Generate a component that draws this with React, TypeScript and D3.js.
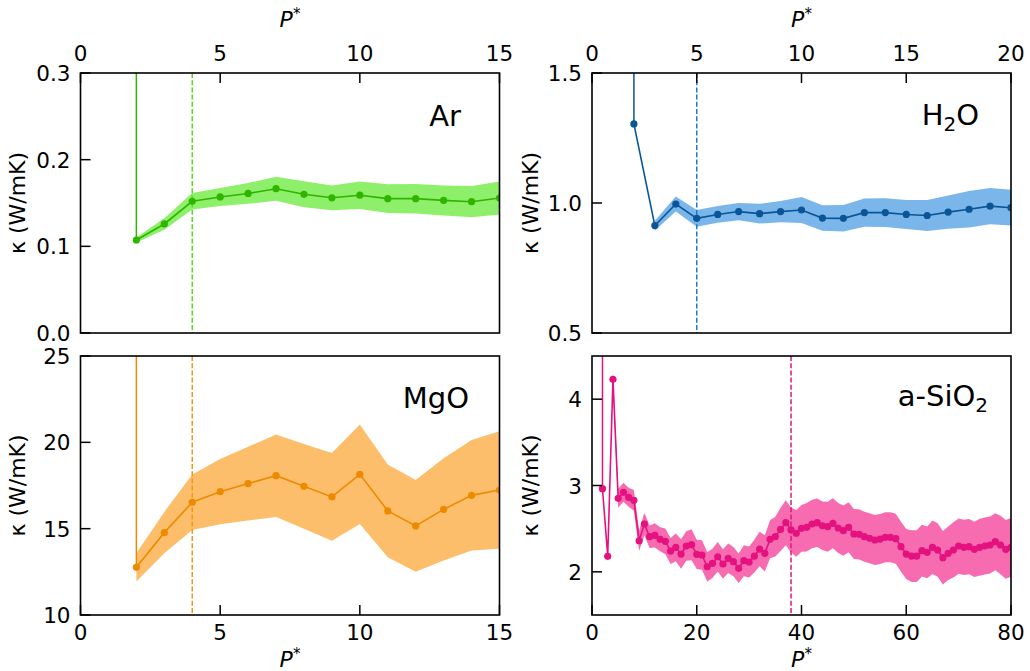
import React from "react";
import * as d3 from "d3";

const FONT = "DejaVu Sans, Verdana, sans-serif";

// ---- data ----
const arP = [2, 3, 4, 5, 6, 7, 8, 9, 10, 11, 12, 13, 14, 15];
const arK = [0.1073, 0.1258, 0.152, 0.157, 0.161, 0.1665, 0.16, 0.156, 0.159, 0.155, 0.155, 0.153, 0.1515, 0.1557];
const arErr = [0.003, 0.0067, 0.0096, 0.0104, 0.012, 0.0138, 0.015, 0.0143, 0.0158, 0.0165, 0.017, 0.0173, 0.018, 0.019];

const h2oP = [2, 3, 4, 5, 6, 7, 8, 9, 10, 11, 12, 13, 14, 15, 16, 17, 18, 19, 20];
const h2oK = [1.304, 0.913, 0.996, 0.941, 0.956, 0.967, 0.959, 0.967, 0.973, 0.942, 0.941, 0.963, 0.963, 0.956, 0.952, 0.965, 0.976, 0.988, 0.982];
const h2oErr = [null, 0.019, 0.029, 0.032, 0.032, 0.033, 0.038, 0.041, 0.05, 0.049, 0.051, 0.054, 0.055, 0.056, 0.06, 0.064, 0.07, 0.07, 0.069];

const mgoP = [2, 3, 4, 5, 6, 7, 8, 9, 10, 11, 12, 13, 14, 15];
const mgoK = [12.76, 14.77, 16.53, 17.14, 17.61, 18.07, 17.45, 16.84, 18.15, 16.03, 15.16, 16.12, 16.93, 17.24];
const mgoErr = [0.82, 1.2, 1.6, 1.89, 2.13, 2.39, 2.46, 2.54, 2.88, 2.69, 2.66, 2.96, 3.2, 3.4];

const sioP = [
  2, 3, 4, 5, 6, 7, 8, 9, 10, 11, 12, 13, 14, 15, 16, 17, 18, 19, 20,
  21, 22, 23, 24, 25, 26, 27, 28, 29, 30, 31, 32, 33, 34, 35, 36, 37, 38, 39, 40,
  41, 42, 43, 44, 45, 46, 47, 48, 49, 50, 51, 52, 53, 54, 55, 56, 57, 58, 59, 60,
  61, 62, 63, 64, 65, 66, 67, 68, 69, 70, 71, 72, 73, 74, 75, 76, 77, 78, 79, 80,
];
const sioK = [
  2.963, 2.18, 4.23, 2.852, 2.921, 2.863, 2.828, 2.36, 2.554, 2.407, 2.423, 2.377, 2.353, 2.241, 2.284, 2.206, 2.299, 2.314, 2.203,
  2.195, 2.059, 2.098, 2.175, 2.091, 2.157, 2.118, 2.041, 2.129, 2.114, 2.183, 2.264, 2.214, 2.377, 2.407, 2.492, 2.569, 2.485, 2.446, 2.504,
  2.516, 2.554, 2.569, 2.534, 2.523, 2.562, 2.508, 2.477, 2.516, 2.438, 2.434, 2.407, 2.388, 2.369, 2.38, 2.4, 2.4, 2.384, 2.291, 2.206,
  2.183, 2.183, 2.245, 2.226, 2.284, 2.253, 2.164, 2.214, 2.253, 2.299, 2.284, 2.291, 2.261, 2.284, 2.299, 2.311, 2.349, 2.311, 2.261, 2.284,
];
const sioErr = [
  null, null, 0.1, 0.11, 0.11, 0.11, 0.12, 0.12, 0.13, 0.13, 0.14, 0.14, 0.15, 0.15, 0.16, 0.17, 0.17, 0.18, 0.17,
  0.17, 0.17, 0.17, 0.17, 0.17, 0.17, 0.17, 0.17, 0.18, 0.18, 0.19, 0.2, 0.21, 0.22, 0.23, 0.25, 0.26, 0.26, 0.27, 0.27,
  0.28, 0.28, 0.28, 0.28, 0.29, 0.29, 0.29, 0.29, 0.29, 0.29, 0.29, 0.29, 0.29, 0.29, 0.29, 0.29, 0.29, 0.29, 0.29, 0.29,
  0.3, 0.3, 0.3, 0.3, 0.31, 0.31, 0.31, 0.31, 0.32, 0.32, 0.32, 0.32, 0.32, 0.33, 0.33, 0.33, 0.33, 0.34, 0.34, 0.34,
];

const arXTicks = [0, 5, 10, 15];
const arYTicks = [0.0, 0.1, 0.2, 0.3];
const h2oXTicks = [0, 5, 10, 15, 20];
const h2oYTicks = [0.5, 1.0, 1.5];
const mgoXTicks = [0, 5, 10, 15];
const mgoYTicks = [10, 15, 20, 25];
const sioXTicks = [0, 20, 40, 60, 80];
const sioYTicks = [2, 3, 4];

const TICK_FS = 21.5;
const LABEL_FS = 22;

type PanelProps = {
  id: string;
  box: [number, number, number, number]; // left, top, right, bottom
  xDomain: [number, number];
  yDomain: [number, number];
  xTicks: number[];
  yTicks: number[];
  yFmt: (v: number) => string;
  side: "top" | "bottom";
  P: number[];
  K: number[];
  E: (number | null)[];
  lineColor: string;
  fillColor: string;
  dashColor: string;
  dashX: number;
  label: React.ReactNode;
  labelX: number;
  labelY: number;
  yLabelX: number;
};

function PStar({ x, y }: { x: number; y: number }) {
  return (
    <text x={x} y={y} textAnchor="middle" fontSize={LABEL_FS} fontFamily={FONT}>
      <tspan fontStyle="italic">P</tspan>
      <tspan dy={-8} fontSize={15}>*</tspan>
    </text>
  );
}

function Panel(p: PanelProps) {
  const [L, T, R, B] = p.box;
  const x = d3.scaleLinear().domain(p.xDomain).range([L, R]);
  const y = d3.scaleLinear().domain(p.yDomain).range([B, T]);
  const pts = p.P.map((v, i) => ({ p: v, k: p.K[i], e: p.E[i] }));
  const area = d3
    .area<any>()
    .defined((d) => d.e != null)
    .x((d) => x(d.p))
    .y0((d) => y(d.k - d.e))
    .y1((d) => y(d.k + d.e));
  const line = d3
    .line<any>()
    .x((d) => x(d.p))
    .y((d) => y(d.k));
  const tickLen = 10;
  const clipId = "clip-" + p.id;
  const cy = (T + B) / 2;
  return (
    <g>
      <defs>
        <clipPath id={clipId}>
          <rect x={L} y={T} width={R - L} height={B - T} />
        </clipPath>
      </defs>
      <g clipPath={`url(#${clipId})`}>
        <path d={area(pts) || ""} fill={p.fillColor} stroke="none" />
        <line
          x1={x(p.dashX)}
          x2={x(p.dashX)}
          y1={T}
          y2={B}
          stroke={p.dashColor}
          strokeWidth={1.5}
          strokeDasharray="5,2.2"
        />
        <line
          x1={x(p.P[0])}
          x2={x(p.P[0])}
          y1={y(p.K[0])}
          y2={T}
          stroke={p.lineColor}
          strokeWidth={1.5}
        />
        <path d={line(pts) || ""} fill="none" stroke={p.lineColor} strokeWidth={1.6} />
        {pts.map((d, i) => (
          <circle key={i} cx={x(d.p)} cy={y(d.k)} r={3.6} fill={p.lineColor} />
        ))}
      </g>
      {/* frame */}
      <rect x={L} y={T} width={R - L} height={B - T} fill="none" stroke="#000" strokeWidth={1.6} />
      {/* y ticks */}
      {p.yTicks.map((t) => (
        <g key={"y" + t}>
          <line x1={L} x2={L + tickLen} y1={y(t)} y2={y(t)} stroke="#000" strokeWidth={1.5} />
          <text
            x={L - 10}
            y={y(t) + 8}
            textAnchor="end"
            fontSize={TICK_FS}
            fontFamily={FONT}
            fill="#000"
          >
            {p.yFmt(t)}
          </text>
        </g>
      ))}
      {/* x ticks */}
      {p.xTicks.map((t) => {
        const ay = p.side === "top" ? T : B;
        const dir = p.side === "top" ? 1 : -1;
        return (
          <g key={"x" + t}>
            <line x1={x(t)} x2={x(t)} y1={ay} y2={ay + dir * tickLen} stroke="#000" strokeWidth={1.5} />
            <text
              x={x(t)}
              y={p.side === "top" ? T - 12 : B + 25}
              textAnchor="middle"
              fontSize={TICK_FS}
              fontFamily={FONT}
              fill="#000"
            >
              {t}
            </text>
          </g>
        );
      })}
      <PStar x={(L + R) / 2} y={p.side === "top" ? 27 : 667} />
      <text
        transform={`translate(${p.yLabelX},${cy}) rotate(-90)`}
        textAnchor="middle"
        fontSize={LABEL_FS}
        fontFamily={FONT}
        fill="#000"
      >
        κ (W/mK)
      </text>
      <text x={p.labelX} y={p.labelY} textAnchor="end" fontSize={29} fontFamily={FONT} fill="#000">
        {p.label}
      </text>
    </g>
  );
}

export default function App() {
  const f1 = d3.format(".1f");
  const f0 = d3.format("d");
  const leftBox = (T: number, B: number): [number, number, number, number] => [80.5, T, 499.5, B];
  const rightBox = (T: number, B: number): [number, number, number, number] => [592, T, 1011, B];
  return (
    <svg
      width={1030}
      height={671}
      viewBox="0 0 1030 671"
      style={{ position: "absolute", left: 0, top: 0, background: "#fff" }}
    >
      <rect x={0} y={0} width={1030} height={671} fill="#fff" />
      <Panel
        id="ar"
        box={leftBox(73, 333)}
        xDomain={[0, 15]}
        yDomain={[0, 0.3]}
        xTicks={arXTicks}
        yTicks={arYTicks}
        yFmt={f1}
        side="top"
        P={arP}
        K={arK}
        E={arErr}
        lineColor="#2fb400"
        fillColor="#8ef06a"
        dashColor="#55dd1a"
        dashX={4}
        label="Ar"
        labelX={461}
        labelY={126}
        yLabelX={25}
      />
      <Panel
        id="h2o"
        box={rightBox(73, 333)}
        xDomain={[0, 20]}
        yDomain={[0.5, 1.5]}
        xTicks={h2oXTicks}
        yTicks={h2oYTicks}
        yFmt={f1}
        side="top"
        P={h2oP}
        K={h2oK}
        E={h2oErr}
        lineColor="#0b5597"
        fillColor="#7ab6ea"
        dashColor="#1c7bd0"
        dashX={5}
        label={
          <>
            H<tspan dy={6} fontSize={20}>2</tspan>
            <tspan dy={-6}>O</tspan>
          </>
        }
        labelX={979}
        labelY={125}
        yLabelX={538}
      />
      <Panel
        id="mgo"
        box={leftBox(356, 615)}
        xDomain={[0, 15]}
        yDomain={[10, 25]}
        xTicks={mgoXTicks}
        yTicks={mgoYTicks}
        yFmt={f0}
        side="bottom"
        P={mgoP}
        K={mgoK}
        E={mgoErr}
        lineColor="#ec8a00"
        fillColor="#fdbe6b"
        dashColor="#f5961c"
        dashX={4}
        label="MgO"
        labelX={469}
        labelY={408}
        yLabelX={25}
      />
      <Panel
        id="sio2"
        box={rightBox(356, 615)}
        xDomain={[0, 80]}
        yDomain={[1.5, 4.5]}
        xTicks={sioXTicks}
        yTicks={sioYTicks}
        yFmt={f0}
        side="bottom"
        P={sioP}
        K={sioK}
        E={sioErr}
        lineColor="#e5117f"
        fillColor="#f76cb1"
        dashColor="#dd1a78"
        dashX={38}
        label={
          <>
            a-SiO<tspan dy={6} fontSize={20}>2</tspan>
          </>
        }
        labelX={988}
        labelY={406}
        yLabelX={538}
      />
    </svg>
  );
}
